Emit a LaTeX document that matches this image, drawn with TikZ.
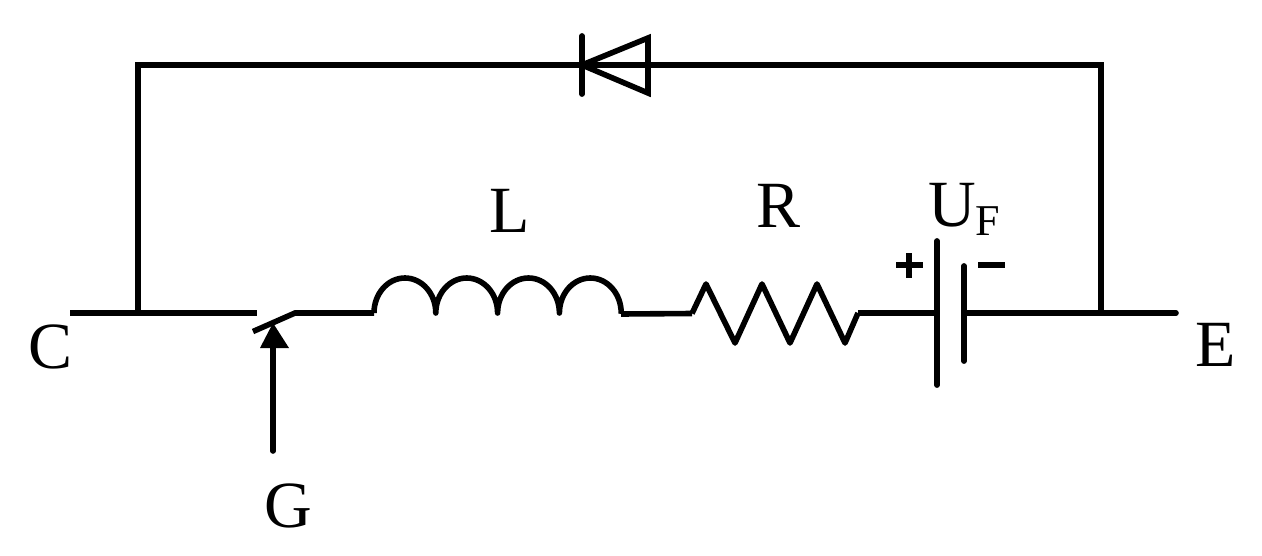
\documentclass[tikz,border=0pt]{standalone}
\usepackage{fontspec}
\setmainfont{Liberation Serif}
\begin{document}
\begin{tikzpicture}[x=1pt,y=-1pt,
  wire/.style={line width=5.6pt,line cap=butt,line join=miter,black},
  plate/.style={line width=5.8pt,line cap=round,black},
  lab/.style={font=\fontsize{66}{66}\selectfont,inner sep=0pt,anchor=base}]
\useasboundingbox (0,0) rectangle (1262,555);
% named connection points
\coordinate (cl) at (70,313);
\coordinate (jc) at (138,313);
\coordinate (tl) at (138,65);
\coordinate (tr) at (1101,65);
\coordinate (je) at (1101,313);
\coordinate (er) at (1176,313);
\coordinate (dk) at (582,65);
\coordinate (swa) at (257,313);
\coordinate (swb) at (295,313);
\coordinate (swt) at (253,331.5);
\coordinate (lA) at (374,313);
\coordinate (lB) at (621,314);
\coordinate (rA) at (692,313.5);
\coordinate (rB) at (858,313);
\coordinate (batp) at (937,313);
\coordinate (batm) at (964,313);
\coordinate (gb) at (273,451);
\coordinate (gt) at (273,340);
% wiring
\draw[wire] (cl) -- (swa);
\draw[wire] (jc) -- (tl) -- (tr) -- (je);
\draw[wire,line cap=round] (batm) -- (er);
% diode
\draw[plate] (dk |- 0,36) -- (dk |- 0,94);
\draw[wire] (648,38) -- (648,93) -- (dk) -- cycle;
% switch
\draw[wire] (swt) -- (swb) -- (lA);
% inductor
\draw[wire,line join=round] (lA) arc[start angle=180,end angle=0,x radius=30.9,y radius=-35]
  arc[start angle=180,end angle=0,x radius=30.9,y radius=-35]
  arc[start angle=180,end angle=0,x radius=30.9,y radius=-35]
  arc[start angle=180,end angle=0,x radius=30.9,y radius=-35] -- (lB);
\draw[wire] (lB) -- (rA);
% resistor
\draw[wire,line join=round] (rA) -- (706,284) -- (735,343) -- (762,284) -- (790,343) -- (817,284) -- (845,343) -- (rB);
\draw[wire] (rB) -- (batp);
% battery
\draw[plate] (937,241) -- (937,385);
\draw[plate] (964,266) -- (964,361);
% arrow
\draw[wire,line cap=round] (gb) -- (gt);
\fill (273,323) -- (289,348) -- (260,348) -- cycle;
% plus minus
\draw[line width=5.4pt] (896,265) -- (923,265);
\draw[line width=5.4pt] (909,253) -- (909,278);
\draw[line width=5.4pt] (978,265) -- (1005,265);
% labels
\node[lab] (C) at (50.5,368) {C};
\node[lab] (E) at (1215.5,366) {E};
\node[lab] (G) at (288,527) {G};
\node[lab] (L) at (510,232) {L};
\node[lab] (R) at (779,227) {R};
\node[lab,anchor=base west] (U) at (928,226) {U\raisebox{-9pt}{\fontsize{44}{44}\selectfont F}};
\end{tikzpicture}
\end{document}
